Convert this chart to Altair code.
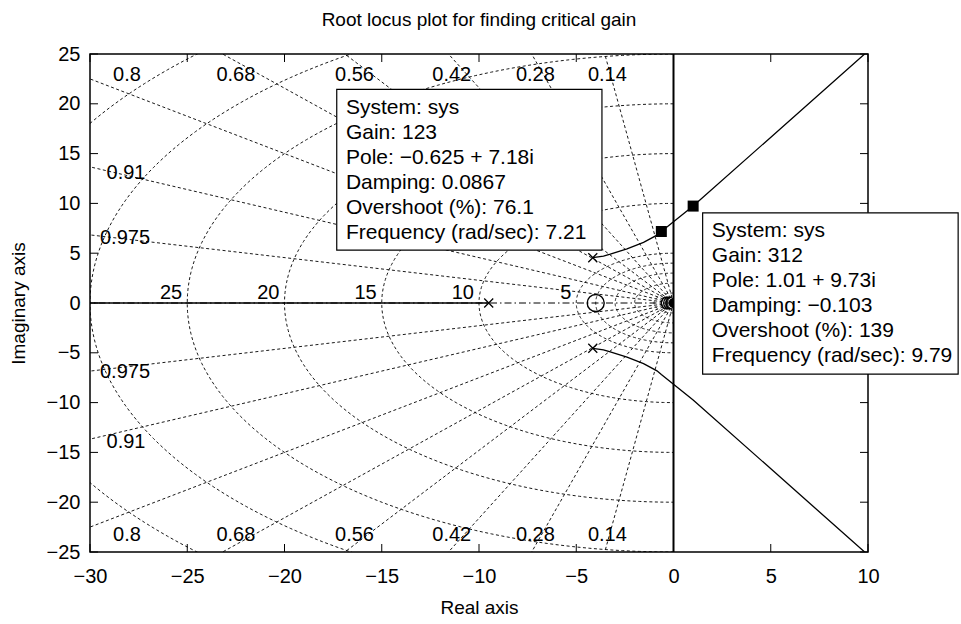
import altair as alt
import numpy as np
import pandas as pd

# ---------------- values ----------------
title_text = "Root locus plot for finding critical gain"
x_ticks = [-30, -25, -20, -15, -10, -5, 0, 5, 10]
y_ticks = [-25, -20, -15, -10, -5, 0, 5, 10, 15, 20, 25]

# open-loop poles and zeros
pole_re = [-9.5, -4.15, -4.15]
pole_im = [0.0, 4.55, -4.55]
zero_re = [-4.0]
zero_im = [0.0]
origin_arc_re = [-0.32, -0.20, -0.08]
origin_pole_re = [0.0]

# upper complex branch (the lower branch is its conjugate)
branch_re = [-4.15, -3.60, -3.25, -2.39, -1.54, -0.85, -0.625, 1.01, 10.0]
branch_im = [4.55, 4.70, 4.90, 5.44, 6.08, 6.81, 7.18, 9.73, 25.3]
# branch along the negative real axis
real_branch_re = [-30.0, -9.5]

# s-plane grid
zeta_values = [0.14, 0.28, 0.42, 0.56, 0.68, 0.8, 0.91, 0.975]
wn_values = [1, 2, 3, 4, 5, 10, 15, 20, 25, 30, 35]
wn_labels = [5, 10, 15, 20, 25]
zeta_label_re = [-3.4, -7.1, -11.4, -16.4, -22.5, -28.1, -28.15, -28.2]
zeta_label_im_upper = [22.9, 22.9, 22.9, 22.9, 22.9, 22.9, 13.1, 6.5]
zeta_label_im_lower = [-23.3, -23.3, -23.3, -23.3, -23.3, -23.3, -14.0, -6.95]

# data tips
tip_gain = [123, 312]
tip_re = [-0.625, 1.01]
tip_im = [7.18, 9.73]
tip_damping = [0.0867, -0.103]
tip_overshoot = [76.1, 139]
tip_freq = [7.21, 9.79]

# ---------------- layout / style ----------------
FONT = "Liberation Sans"
W, H = 778, 498
TICK = 8
XPATH = "M-1,-1L1,1M-1,1L1,-1"
LEFT_ARC = "M0,-1A1,1,0,0,0,0,1"
LEFT_DISC = "M0,-1A1,1,0,0,0,0,1Z"
GRID_DASH = [3, 2.5]

xs = alt.Scale(domain=[-30, 10], nice=False, zero=False)
ys = alt.Scale(domain=[-25, 25], nice=False, zero=False)


def X(field="re"):
    return alt.X(f"{field}:Q", scale=xs)


def Y(field="im"):
    return alt.Y(f"{field}:Q", scale=ys)


def fmt(v):
    return f"{v:g}".replace("-", "\u2212")


# ---------------- grid tables ----------------
circle_rows = []
theta = np.linspace(np.pi / 2, 3 * np.pi / 2, 181)
for wn in wn_values:
    for k, t in enumerate(theta):
        circle_rows.append({"wn": wn, "k": k, "re": wn * np.cos(t), "im": wn * np.sin(t)})
circles = pd.DataFrame(circle_rows)

ray_rows = []
R = 80.0
for z in zeta_values:
    s = np.sqrt(1 - z * z)
    for sign in (1, -1):
        rid = f"{z}_{sign}"
        ray_rows.append({"ray": rid, "k": 0, "re": 0.0, "im": 0.0})
        ray_rows.append({"ray": rid, "k": 1, "re": -z * R, "im": sign * s * R})
rays = pd.DataFrame(ray_rows)

real_axis = pd.DataFrame({"re": [-40.0, 0.0], "im": [0.0, 0.0]})
imag_axis = pd.DataFrame({"re": [0.0], "im": [-25.0], "hi": [25.0]})

zeta_labels = pd.DataFrame({
    "re": zeta_label_re + zeta_label_re,
    "im": zeta_label_im_upper + zeta_label_im_lower,
    "txt": [f"{z:g}" for z in zeta_values] * 2,
})
wn_label_df = pd.DataFrame({"re": [-w for w in wn_labels], "im": [0.0] * len(wn_labels),
                            "txt": [str(w) for w in wn_labels]})

# ---------------- locus tables ----------------
loc_rows = []
for k, (r, i) in enumerate(zip(branch_re, branch_im)):
    loc_rows.append({"b": "upper", "k": k, "re": r, "im": i})
    loc_rows.append({"b": "lower", "k": k, "re": r, "im": -i})
for k, r in enumerate(real_branch_re):
    loc_rows.append({"b": "real", "k": k, "re": r, "im": 0.0})
locus = pd.DataFrame(loc_rows)

poles = pd.DataFrame({"re": pole_re, "im": pole_im})
zeros = pd.DataFrame({"re": zero_re, "im": zero_im})
origin_arcs = pd.DataFrame({"re": origin_arc_re, "im": [0.0] * len(origin_arc_re)})
origin_pole = pd.DataFrame({"re": origin_pole_re, "im": [0.0] * len(origin_pole_re)})

tips = pd.DataFrame({"re": tip_re, "im": tip_im})
tip_text = [
    "\n".join([
        "System: sys",
        f"Gain: {g}",
        f"Pole: {fmt(r)} + {fmt(i)}i",
        f"Damping: {fmt(d)}",
        f"Overshoot (%): {fmt(o)}",
        f"Frequency (rad/sec): {fmt(f)}",
    ])
    for g, r, i, d, o, f in zip(tip_gain, tip_re, tip_im, tip_damping, tip_overshoot, tip_freq)
]
tip_df = [pd.DataFrame({"re": [tip_re[j]], "im": [tip_im[j]], "txt": [tip_text[j]]}) for j in range(2)]

# tick positions along the frame
xt = pd.DataFrame({"re": x_ticks})
yt = pd.DataFrame({"im": y_ticks})

# ---------------- layers ----------------
axis_x = alt.Axis(values=x_ticks, title="Real axis", grid=False, domain=False, ticks=False,
                  tickSize=0, labelFont=FONT, labelFontSize=20, labelColor="black",
                  labelPadding=14, labelFlush=False, labelOverlap=False,
                  titleFont=FONT, titleFontSize=19, titleFontWeight="normal", titleColor="black",
                  titleX=389, titleY=55, titleBaseline="middle")
axis_y = alt.Axis(values=y_ticks, title="Imaginary axis", grid=False, domain=False, ticks=False,
                  tickSize=0, labelFont=FONT, labelFontSize=20, labelColor="black",
                  labelPadding=10, labelFlush=False, labelOverlap=False,
                  titleFont=FONT, titleFontSize=19, titleFontWeight="normal", titleColor="black",
                  titleX=-72, titleY=249, titleBaseline="middle")

grid_circles = alt.Chart(circles).mark_line(
    color="black", strokeWidth=0.9, strokeDash=GRID_DASH, clip=True
).encode(
    x=alt.X("re:Q", scale=xs, axis=axis_x),
    y=alt.Y("im:Q", scale=ys, axis=axis_y),
    detail="wn:N", order="k:Q",
)

grid_rays = alt.Chart(rays).mark_line(
    color="black", strokeWidth=0.9, strokeDash=GRID_DASH, clip=True
).encode(x=X(), y=Y(), detail="ray:N", order="k:Q")

real_axis_line = alt.Chart(real_axis).mark_line(
    color="black", strokeWidth=1, strokeDash=[7, 3, 1.5, 3], clip=True
).encode(x=X(), y=Y())

imag_axis_line = alt.Chart(imag_axis).mark_rule(color="black", strokeWidth=2).encode(
    x=X(), y=Y(), y2=alt.Y2("hi")
)

zeta_text = alt.Chart(zeta_labels).mark_text(
    font=FONT, fontSize=20, color="black", align="center", baseline="middle"
).encode(x=X(), y=Y(), text="txt:N")

wn_text = alt.Chart(wn_label_df).mark_text(
    font=FONT, fontSize=20, color="black", align="right", baseline="alphabetic", dx=-5, dy=-4
).encode(x=X(), y=Y(), text="txt:N")

locus_lines = alt.Chart(locus).mark_line(color="black", strokeWidth=1.3, clip=True).encode(
    x=X(), y=Y(), detail="b:N", order="k:Q"
)

pole_marks = alt.Chart(poles).mark_point(
    shape=XPATH, size=81, filled=False, color="black", strokeWidth=1.3, opacity=1
).encode(x=X(), y=Y())

zero_marks = alt.Chart(zeros).mark_point(
    shape="circle", size=289, filled=False, color="black", strokeWidth=1.4, opacity=1
).encode(x=X(), y=Y())

origin_arc_marks = alt.Chart(origin_arcs).mark_point(
    shape=LEFT_ARC, size=144, filled=False, color="black", strokeWidth=1.3, opacity=1
).encode(x=X(), y=Y())

origin_pole_mark = alt.Chart(origin_pole).mark_point(
    shape=LEFT_DISC, size=100, filled=True, color="black", opacity=1
).encode(x=X(), y=Y())

one = pd.DataFrame({"a": [0]})
frame = alt.Chart(one).mark_rect(fill="transparent", stroke="black", strokeWidth=1.5).encode(
    x=alt.value(0), x2=alt.value(W), y=alt.value(0), y2=alt.value(H)
)

tick_top = alt.Chart(xt).mark_rule(color="black", strokeWidth=1).encode(
    x=X(), y=alt.value(0), y2=alt.value(TICK))
tick_bottom = alt.Chart(xt).mark_rule(color="black", strokeWidth=1).encode(
    x=X(), y=alt.value(H), y2=alt.value(H - TICK))
tick_left = alt.Chart(yt).mark_rule(color="black", strokeWidth=1).encode(
    y=Y(), x=alt.value(0), x2=alt.value(TICK))
tick_right = alt.Chart(yt).mark_rule(color="black", strokeWidth=1).encode(
    y=Y(), x=alt.value(W), x2=alt.value(W - TICK))

tip_marks = alt.Chart(tips).mark_point(
    shape="square", size=121, filled=True, color="black", opacity=1
).encode(x=X(), y=Y())

# data-tip boxes, placed in pixels relative to their anchor point
box_offsets = [(-324.6, -59.4, -142.1, 18.6), (9.5, 265.0, 6.7, 168.0)]
text_offsets = [(-315.4, -117.4), (18.7, 31.4)]
tip_layers = []
for j in range(2):
    xo, x2o, yo, y2o = box_offsets[j]
    box = alt.Chart(tip_df[j]).mark_rect(
        fill="white", stroke="black", strokeWidth=1.2,
        xOffset=xo, x2Offset=x2o, yOffset=yo, y2Offset=y2o,
    ).encode(x=X(), x2=alt.X2("re"), y=Y(), y2=alt.Y2("im"))
    dx, dy = text_offsets[j]
    txt = alt.Chart(tip_df[j]).mark_text(
        font=FONT, fontSize=21, color="black", align="left", baseline="alphabetic",
        dx=dx, dy=dy, lineBreak="\n", lineHeight=25,
    ).encode(x=X(), y=Y(), text="txt:N")
    tip_layers += [box, txt]

chart = alt.layer(
    grid_circles, grid_rays, real_axis_line, imag_axis_line,
    zeta_text, wn_text, locus_lines,
    pole_marks, zero_marks, origin_arc_marks, origin_pole_mark,
    frame, tick_top, tick_bottom, tick_left, tick_right,
    tip_marks, *tip_layers,
).properties(
    width=W, height=H,
    title=alt.Title(title_text, font=FONT, fontSize=19, fontWeight="normal", color="black",
                    anchor="middle", offset=14),
    autosize=alt.AutoSizeParams(type="none"),
    padding={"left": 90, "top": 54, "right": 93, "bottom": 72},
).configure_view(stroke="transparent")

chart.save("out.html", embed_options={"renderer": "svg", "actions": False})
